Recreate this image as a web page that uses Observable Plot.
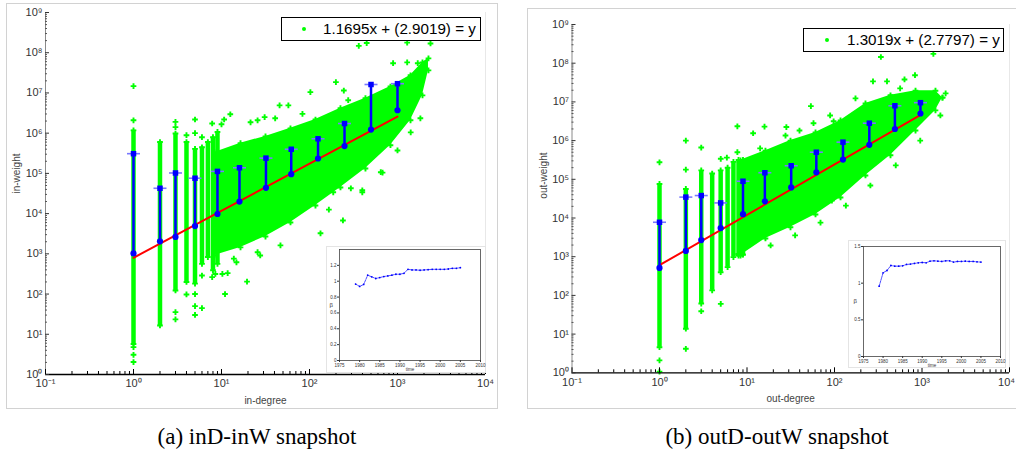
<!DOCTYPE html>
<html><head><meta charset="utf-8">
<script src="https://cdn.jsdelivr.net/npm/d3@7"></script>
<script src="https://cdn.jsdelivr.net/npm/@observablehq/plot@0.6"></script>
<style>
body{margin:0;background:#fff;}
#root{position:relative;width:1016px;height:457px;overflow:hidden;font-family:"Liberation Sans",Arial,sans-serif;}
.pframe{position:absolute;border:1.5px solid #d2d2d2;box-sizing:border-box;}
.legend{position:absolute;border:1px solid #000;background:#fff;box-sizing:border-box;font-size:15.2px;line-height:22px;white-space:nowrap;color:#000;}
.legend .dot{position:absolute;width:4px;height:4px;border-radius:2px;background:#00ff00;}
.caption{position:absolute;font-family:"Liberation Serif","Times New Roman",serif;font-size:23px;line-height:26px;text-align:center;color:#000;white-space:nowrap;}
.inset{position:absolute;background:#fff;border:1px solid #e4e4e4;box-sizing:border-box;}
.inset svg{overflow:visible;}
</style></head>
<body><div id="root"></div>
<script>
// ---------- data (exponents are log10 values) ----------
const xMajorTicks = [0.1, 1, 10, 100, 1000, 10000];
const yMajorTicks = [1, 1e1, 1e2, 1e3, 1e4, 1e5, 1e6, 1e7, 1e8, 1e9];

// left panel: inD-inW
const leftSlope = 1.1695, leftIntercept = 2.9019;
const leftLegend = "1.1695x + (2.9019) = y";
const leftFitX = [1, 1000];
const leftBarDeg = [1, 2, 3, 5, 9, 16, 32, 62, 125, 250, 500, 1000];
const leftBarMeanExp = [3.01, 3.31, 3.42, 3.69, 3.99, 4.30, 4.64, 4.98, 5.37, 5.68, 6.09, 6.57];
const leftBarTopExp = [5.49, 4.63, 5.01, 4.88, 5.05, 5.14, 5.38, 5.60, 5.86, 6.24, 7.21, 7.23];
const leftColDeg = [1, 2, 3, 4, 5, 6, 7, 8, 9];
const leftColLoExp = [0.76, 1.22, 2.09, 2.30, 2.26, 2.75, 2.92, 2.59, 2.75];
const leftColHiExp = [6.07, 5.78, 5.99, 5.78, 5.61, 5.65, 5.78, 5.90, 6.03];
const leftCloudXExp = [0.92, 1.216, 1.5, 1.784, 2.068, 2.352, 2.636, 2.92, 3.148, 3.284, 3.352];
const leftCloudLoExp = [2.96, 3.16, 3.43, 3.78, 4.20, 4.65, 5.12, 5.70, 6.32, 6.94, 7.56];
const leftCloudHiExp = [5.52, 5.75, 5.92, 6.12, 6.34, 6.62, 6.87, 7.16, 7.44, 7.76, 7.86];
const leftOutXExp = [0,0,0,0,0, 0.477,0.477,0.477,0.477, 0.602,0.602, 0.699,0.699,0.699,0.699,0.699,
  0.778,0.778,0.778, 0.894,0.894,0.93, 1.0,1.01,1.03,1.04,1.07,1.10,1.14,
  1.29,1.41,1.41,1.49,1.66,1.76,1.92, 1.95,2.01,2.125,2.22,2.30,2.38,2.39,2.44,
  2.56,2.60,2.65,2.81,3.11,3.375,
  1.93,2.27,2.47,2.60,2.83,3.0,3.15,3.26,2.95,3.11,3.23,1.33,1.61,1.44,1.67,1.17];
const leftOutYExp = [7.17,6.32,0.68,0.49,0.31, 6.28,6.15,1.55,1.37, 1.99,5.95, 6.34,6.0,2.0,1.70,1.48,
  2.46,1.65,5.9, 6.24,2.42,2.5, 6.22,2.5,6.34,2.0,2.52,6.47,2.88,
  2.31,6.32,3.04,6.40,6.69,6.69,6.48, 4.22,7.02,3.51,4.10,7.27,3.83,7.06,6.82,
  8.17,4.58,8.24,5.03,8.25,8.23,
  4.28,4.53,4.63,4.53,5.02,5.57,6.02,6.37,7.74,7.76,7.74,6.27,6.37,2.96,3.21,2.79];

// right panel: outD-outW
const rightSlope = 1.3019, rightIntercept = 2.7797;
const rightLegend = "1.3019x + (2.7797) = y";
const rightFitX = [1, 1000];
const rightBarDeg = [1, 2, 3, 5, 9, 16, 32, 62, 125, 250, 490, 960];
const rightBarMeanExp = [2.71, 3.15, 3.43, 3.74, 4.10, 4.43, 4.79, 5.18, 5.51, 5.89, 6.30, 6.70];
const rightBarTopExp = [3.89, 4.54, 4.58, 4.39, 4.95, 5.17, 5.35, 5.70, 5.96, 6.45, 6.90, 6.98];
const rightColDeg = [1, 2, 3, 4, 5, 6, 7, 8, 9];
const rightColLoExp = [0.66, 1.14, 1.79, 2.13, 2.6, 2.73, 2.99, 3.03, 3.05];
const rightColHiExp = [4.88, 4.75, 5.23, 5.15, 5.23, 5.3, 5.45, 5.5, 5.5];
const rightCloudXExp = [0.926, 1.211, 1.497, 1.783, 2.069, 2.354, 2.64, 2.926, 3.154, 3.234];
const rightCloudLoExp = [3.03, 3.47, 3.76, 4.09, 4.53, 5.10, 5.62, 6.26, 6.78, 7.11];
const rightCloudHiExp = [5.49, 5.74, 6.0, 6.21, 6.52, 6.96, 7.17, 7.29, 7.29, 7.11];
const rightOutXExp = [0,0,0, 0.301,0.301,0.301, 0.477,0.477, 0.70,0.70, 0.77, 0.89,0.89, 0.90,0.95,
  1.07,1.2,1.45,1.60,1.73,1.76,1.99,1.92,1.97, 2.44,2.53,2.60,2.80,2.92,3.13,
  1.27,1.55,1.84,2.13,2.41,2.70,2.98,3.21,1.15,1.44,1.95,2.24,2.75,3.27];
const rightOutYExp = [5.44,0.32,0.03, 6.0,5.25,0.62, 5.82,1.59, 5.53,1.78, 5.56, 5.70,6.37, 3.07,3.06,
  6.19,6.36,6.35,6.26,6.89,6.45,6.5,4.45,4.45, 7.53,8.16,7.53,7.58,7.69,8.24,
  3.29,3.55,3.88,4.32,4.84,5.36,6.0,6.65,5.80,6.13,6.65,7.09,7.35,7.22];

// insets: exponent beta over time
const insetYears = [1979,1980,1981,1982,1983,1984,1985,1986,1987,1988,1989,1990,1991,1992,1993,1994,1995,1996,1997,1998,1999,2000,2001,2002,2003,2004,2005];
const leftInsetBeta = [0.964,0.934,0.959,1.076,1.055,1.034,1.046,1.059,1.067,1.076,1.088,1.088,1.10,1.15,1.142,1.142,1.138,1.142,1.146,1.15,1.15,1.15,1.15,1.154,1.163,1.163,1.171];
const rightInsetBeta = [0.959,1.141,1.173,1.241,1.232,1.232,1.237,1.255,1.26,1.269,1.278,1.282,1.278,1.30,1.305,1.30,1.296,1.305,1.305,1.287,1.296,1.296,1.30,1.296,1.296,1.291,1.287];
const insetXTicks = [1975,1980,1985,1990,1995,2000,2005,2010];
const leftInsetYTicks = [0,0.2,0.4,0.6,0.8,1,1.2];
const rightInsetYTicks = [0,0.5,1,1.5];

// ---------- helpers ----------
const SUP = {"-":"⁻","0":"⁰","1":"¹","2":"²","3":"³","4":"⁴","5":"⁵","6":"⁶","7":"⁷","8":"⁸","9":"⁹"};
const powLabel = d => "10" + String(Math.round(Math.log10(d))).split("").map(c => SUP[c]).join("");
const E = v => Math.pow(10, v);
const minorX = [], minorY = [];
for (let k = -1; k < 4; k++) for (let m = 2; m < 10; m++) minorX.push(m * E(k));
for (let k = 0; k < 9; k++) for (let m = 2; m < 10; m++) minorY.push(m * E(k));
const hline = {draw(ctx) { ctx.moveTo(-6.5, 0); ctx.lineTo(6.5, 0); }};
const GREEN = "#00ff00", BLUE = "#0000ff";

function panel(p) {
  const fw = p.width - p.ml - p.mr, fh = p.height - p.mt - p.mb;
  const cols = p.colDeg.map((d, i) => ({x: d, lo: E(p.colLo[i]), hi: E(p.colHi[i])}));
  const cloud = p.cloudX.map((v, i) => ({x: E(v), lo: E(p.cloudLo[i]), hi: E(p.cloudHi[i])}));
  const out = p.outX.map((v, i) => ({x: E(v), y: E(p.outY[i])}));
  const bars = p.barDeg.map((d, i) => ({x: d, mean: E(p.barMean[i]), top: E(p.barTop[i])}));
  const fit = p.fitX.map(x => ({x, y: E(p.slope * Math.log10(x) + p.intercept)}));
  return Plot.plot({
    width: p.width, height: p.height,
    marginLeft: p.ml, marginRight: p.mr, marginTop: p.mt, marginBottom: p.mb,
    x: {type: "log", domain: [0.1, 1e4]},
    y: {type: "log", domain: [1, 1e9]},
    style: {fontFamily: '"Liberation Sans", Arial, sans-serif', fontSize: "11px", color: "#444", background: "transparent", overflow: "visible"},
    marks: [
      Plot.ruleX([1e4], {stroke: "#e8e8e8", strokeWidth: 1}),
      Plot.areaY(cloud, {x: "x", y1: "lo", y2: "hi", fill: GREEN}),
      Plot.ruleX(cols, {x: "x", y1: "lo", y2: "hi", stroke: GREEN, strokeWidth: 4.5}),
      Plot.dot(cols, {x: "x", y: "lo", symbol: "cross", r: 2.4, fill: GREEN}),
      Plot.dot(cols, {x: "x", y: "hi", symbol: "cross", r: 2.4, fill: GREEN}),
      Plot.dot(cloud, {x: "x", y: "lo", symbol: "cross", r: 2.4, fill: GREEN}),
      Plot.dot(cloud, {x: "x", y: "hi", symbol: "cross", r: 2.4, fill: GREEN}),
      Plot.dot(out, {x: "x", y: "y", symbol: "cross", r: 2.4, fill: GREEN}),
      Plot.line(fit, {x: "x", y: "y", stroke: "#ff0000", strokeWidth: 2}),
      Plot.ruleX(bars, {x: "x", y1: "mean", y2: "top", stroke: BLUE, strokeWidth: 2.5}),
      Plot.dot(bars, {x: "x", y: "top", symbol: hline, stroke: "#7878ff", strokeWidth: 1.6, fill: "none"}),
      Plot.dot(bars, {x: "x", y: "top", symbol: "square", r: 3.1, fill: BLUE}),
      Plot.dot(bars, {x: "x", y: "mean", r: 3.1, fill: BLUE}),
      // axes
      Plot.ruleX([0.1], {stroke: "#8a8a8a", strokeWidth: 1}),
      Plot.ruleY([1], {stroke: "#000", strokeWidth: 1.3}),
      Plot.tickX(minorX, {x: d => d, stroke: "#000", insetTop: fh - 3}),
      Plot.tickX(xMajorTicks, {x: d => d, stroke: "#000", insetTop: fh - 5}),
      Plot.tickY(minorY, {y: d => d, stroke: "#555", insetRight: fw - 2}),
      Plot.tickY(yMajorTicks, {y: d => d, stroke: "#333", insetRight: fw - 4}),
      Plot.axisX(xMajorTicks.slice(0, -1), {tickSize: 0, tickPadding: 5, tickFormat: powLabel, label: null, fill: "#333"}),
      Plot.axisX(xMajorTicks.slice(-1), {tickSize: 0, tickPadding: 5, tickFormat: powLabel, label: null, fill: "#333", dx: p.lastDx}),
      Plot.axisY(yMajorTicks, {tickSize: 0, tickPadding: 3, tickFormat: powLabel, label: null, fill: "#333"}),
      Plot.text([p.xLabel], {frameAnchor: "bottom", dy: 29, fontSize: 10, fill: "#444"}),
      Plot.text([p.yLabel], {frameAnchor: "left", dx: -p.yLabelOff, rotate: -90, fontSize: 10, fill: "#444"})
    ]
  });
}

function inset(p) {
  const pts = insetYears.map((t, i) => ({t, b: p.beta[i]}));
  return Plot.plot({
    width: p.width, height: p.height,
    marginLeft: p.ml, marginRight: p.mr, marginTop: p.mt, marginBottom: p.mb,
    x: {domain: [1975, 2010]},
    y: {domain: [0, p.ymax]},
    style: {fontFamily: '"Liberation Sans", Arial, sans-serif', fontSize: "4.5px", color: "#333", background: "transparent", overflow: "visible"},
    marks: [
      Plot.frame({stroke: "#444", strokeWidth: 0.8}),
      Plot.axisX(insetXTicks, {tickSize: 2, tickPadding: 1, tickFormat: d => String(d), label: null}),
      Plot.axisY(p.yTicks, {tickSize: 2, tickPadding: 1, tickFormat: d => String(d), label: null}),
      Plot.line(pts, {x: "t", y: "b", stroke: BLUE, strokeWidth: 0.7, strokeDasharray: "2,1"}),
      Plot.dot(pts, {x: "t", y: "b", r: 0.9, fill: BLUE}),
      Plot.text(["time"], {frameAnchor: "bottom", dy: 10, fontSize: 4.5}),
      Plot.text(["β"], {frameAnchor: "left", dx: -10, fontSize: 6})
    ]
  });
}

// ---------- layout ----------
const root = document.getElementById("root");
function place(el, left, top) { el.style.position = "absolute"; el.style.left = left + "px"; el.style.top = top + "px"; root.appendChild(el); return el; }
function div(cls, left, top, w, h, html) { const d = document.createElement("div"); d.className = cls; d.style.left = left + "px"; d.style.top = top + "px"; if (w) d.style.width = w + "px"; if (h) d.style.height = h + "px"; if (html) d.innerHTML = html; root.appendChild(d); return d; }

div("pframe", 6, 3, 492, 406);
div("pframe", 527, 8, 495, 401);

place(panel({width: 500, height: 400, ml: 45, mr: 15, mt: 12, mb: 26,
  colDeg: leftColDeg, colLo: leftColLoExp, colHi: leftColHiExp,
  cloudX: leftCloudXExp, cloudLo: leftCloudLoExp, cloudHi: leftCloudHiExp,
  outX: leftOutXExp, outY: leftOutYExp,
  barDeg: leftBarDeg, barMean: leftBarMeanExp, barTop: leftBarTopExp,
  fitX: leftFitX, slope: leftSlope, intercept: leftIntercept, lastDx: 0,
  xLabel: "in-degree", yLabel: "in-weight", yLabelOff: 29}), 0, 0);

place(panel({width: 496, height: 400, ml: 51.5, mr: 7, mt: 24, mb: 27.7,
  colDeg: rightColDeg, colLo: rightColLoExp, colHi: rightColHiExp,
  cloudX: rightCloudXExp, cloudLo: rightCloudLoExp, cloudHi: rightCloudHiExp,
  outX: rightOutXExp, outY: rightOutYExp,
  barDeg: rightBarDeg, barMean: rightBarMeanExp, barTop: rightBarTopExp,
  fitX: rightFitX, slope: rightSlope, intercept: rightIntercept, lastDx: -3,
  xLabel: "out-degree", yLabel: "out-weight", yLabelOff: 28}), 520, 0);

// legends
const lg1 = div("legend", 281, 17, 200, 24);
lg1.innerHTML = '<span class="dot" style="left:20px;top:9px"></span><span style="position:absolute;left:41px;top:0">' + leftLegend + '</span>';
const lg2 = div("legend", 803, 28, 201, 24);
lg2.innerHTML = '<span class="dot" style="left:21px;top:9px"></span><span style="position:absolute;left:43px;top:0">' + rightLegend + '</span>';

// insets
const in1 = div("inset", 326, 246, 160, 127);
in1.appendChild(inset({width: 158, height: 125, ml: 12, mr: 5, mt: 2, mb: 12, ymax: 1.4, yTicks: leftInsetYTicks, beta: leftInsetBeta}));
const in2 = div("inset", 848, 240, 158, 128);
in2.appendChild(inset({width: 156, height: 126, ml: 14, mr: 5, mt: 5, mb: 11, ymax: 1.5, yTicks: rightInsetYTicks, beta: rightInsetBeta}));

// captions
div("caption", 57, 424, 400, 26, "(a) inD-inW snapshot");
div("caption", 577, 424, 400, 26, "(b) outD-outW snapshot");
</script>
</body></html>
